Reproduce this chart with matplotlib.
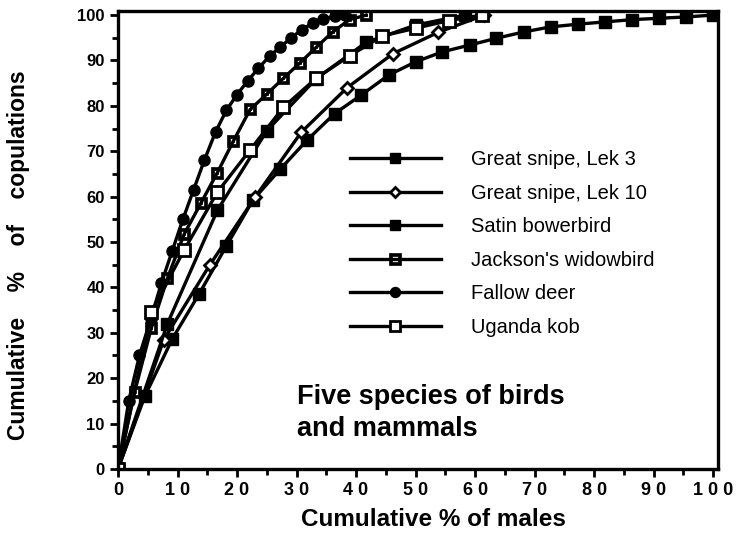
import numpy as np
import matplotlib.pyplot as plt
from matplotlib.path import Path

plt.rcParams['font.family'] = ['Liberation Sans', 'DejaVu Sans']

# cumulative % of males (x) and cumulative % of copulations (y)
lek3_x = [0, 4.5, 9.1, 13.6, 18.2, 22.7, 27.3, 31.8, 36.4, 40.9, 45.5, 50, 54.5, 59.1,
          63.6, 68.2, 72.7, 77.3, 81.8, 86.4, 90.9, 95.5, 100]
lek3_y = [0, 16, 28.6, 38.5, 49.1, 59.3, 66.1, 72.5, 78.3, 82.4, 86.8, 89.7, 91.9, 93.4,
          94.9, 96.3, 97.4, 98, 98.5, 99, 99.3, 99.6, 100]

lek10_x = [0, 7.7, 15.4, 23.1, 30.8, 38.5, 46.2, 53.8, 61.5]
lek10_y = [0, 28.5, 44.9, 60, 74.2, 84, 91.5, 96.2, 100]

satin_x = [0, 8.3, 16.7, 25, 33.3, 41.7, 50, 58.3]
satin_y = [0, 32, 57, 74.5, 86, 94, 97.8, 100]

jackson_x = [0, 2.8, 5.6, 8.3, 11.1, 13.9, 16.7, 19.4, 22.2, 25, 27.8, 30.6, 33.3,
             36.1, 38.9, 41.7]
jackson_y = [0, 17, 31.1, 42, 51.7, 58.5, 65.3, 72.3, 79.2, 82.6, 86.1, 89.5, 92.9,
             96.3, 99, 100]

fallow_x = [0, 1.8, 3.6, 5.5, 7.3, 9.1, 10.9, 12.7, 14.5, 16.4, 18.2, 20, 21.8, 23.6,
            25.5, 27.3, 29.1, 30.9, 32.7, 34.5, 36.4, 38.2]
fallow_y = [0, 15, 25, 33, 41, 48, 55, 61.5, 68, 74.3, 79, 82.5, 85.5, 88.3,
            91, 93, 95, 96.8, 98.2, 99.1, 99.7, 100]

kob_x = [0, 5.6, 11.1, 16.7, 22.2, 27.8, 33.3, 38.9, 44.4, 50, 55.6, 61.1]
kob_y = [0, 34.6, 48.2, 61, 70.3, 79.7, 86.1, 91, 95.4, 97.1, 98.8, 100]

# square with a hole and a dot in the middle (Jackson's widowbird)
def sq(h, ccw=True):
    pts = [(-h, -h), (h, -h), (h, h), (-h, h)]
    if not ccw:
        pts = pts[::-1]
    return pts + [pts[0]]

verts = sq(1.0) + sq(0.55, ccw=False) + sq(0.18)
codes = ([Path.MOVETO] + [Path.LINETO] * 3 + [Path.CLOSEPOLY]) * 3
dot_square = Path(verts, codes)

fig = plt.figure(figsize=(7.47, 5.51), dpi=100)
ax = fig.add_axes([0.158, 0.149, 0.803, 0.831])

lw = 2.4
ax.plot(lek3_x, lek3_y, color='black', lw=lw, marker='s', ms=8.5, mfc='black',
        mec='black', label='Great snipe, Lek 3')
ax.plot(lek10_x, lek10_y, color='black', lw=lw, marker='D', ms=6, mfc='white',
        mec='black', mew=2, label='Great snipe, Lek 10')
ax.plot(satin_x, satin_y, color='black', lw=lw, marker='s', ms=8.5, mfc='black',
        mec='black', label='Satin bowerbird')
ax.plot(jackson_x, jackson_y, color='black', lw=lw, marker=dot_square, ms=9,
        mfc='black', mec='black', mew=0.5, label="Jackson's widowbird")
ax.plot(fallow_x, fallow_y, color='black', lw=lw, marker='o', ms=8, mfc='black',
        mec='black', label='Fallow deer')
ax.plot(kob_x, kob_y, color='black', lw=lw, marker='s', ms=8.5, mfc='white',
        mec='black', mew=2, label='Uganda kob')

ax.set_xlim(0, 100.8)
ax.set_ylim(0, 100.9)
ax.set_xticks(np.arange(0, 101, 10))
ax.set_xticklabels([' '.join(str(v)) for v in range(0, 101, 10)],
                   fontsize=13, fontweight='bold')
ax.set_xticks(np.arange(5, 100, 10), minor=True)
ax.set_yticks(np.arange(0, 101, 10))
ax.set_yticklabels([str(v) for v in range(0, 101, 10)], fontsize=12, fontweight='bold')
ax.set_yticks(np.arange(5, 100, 10), minor=True)
ax.tick_params(which='major', direction='out', length=6, width=2)
ax.tick_params(which='minor', direction='out', length=4, width=2)
for s in ax.spines.values():
    s.set_linewidth(2.4)

ax.set_xlabel('Cumulative % of males', fontsize=17.5, fontweight='bold')
ax.xaxis.set_label_coords(0.525, -0.085)
ax.set_ylabel('Cumulative    %    of    copulations', fontsize=16.5, fontweight='bold')
ax.yaxis.set_label_coords(-0.147, 0.467)

ax.text(30, 6, 'Five species of birds\nand mammals', fontsize=19.5, fontweight='bold',
        linespacing=1.3, va='bottom')

ax.legend(loc='upper left', bbox_to_anchor=(0.387, 0.696), frameon=False,
          fontsize=14.5, handlelength=4.5, handletextpad=1.5, labelspacing=0.72,
          borderaxespad=0, borderpad=0, markerscale=0.9)

plt.savefig('out.png', dpi=100)
